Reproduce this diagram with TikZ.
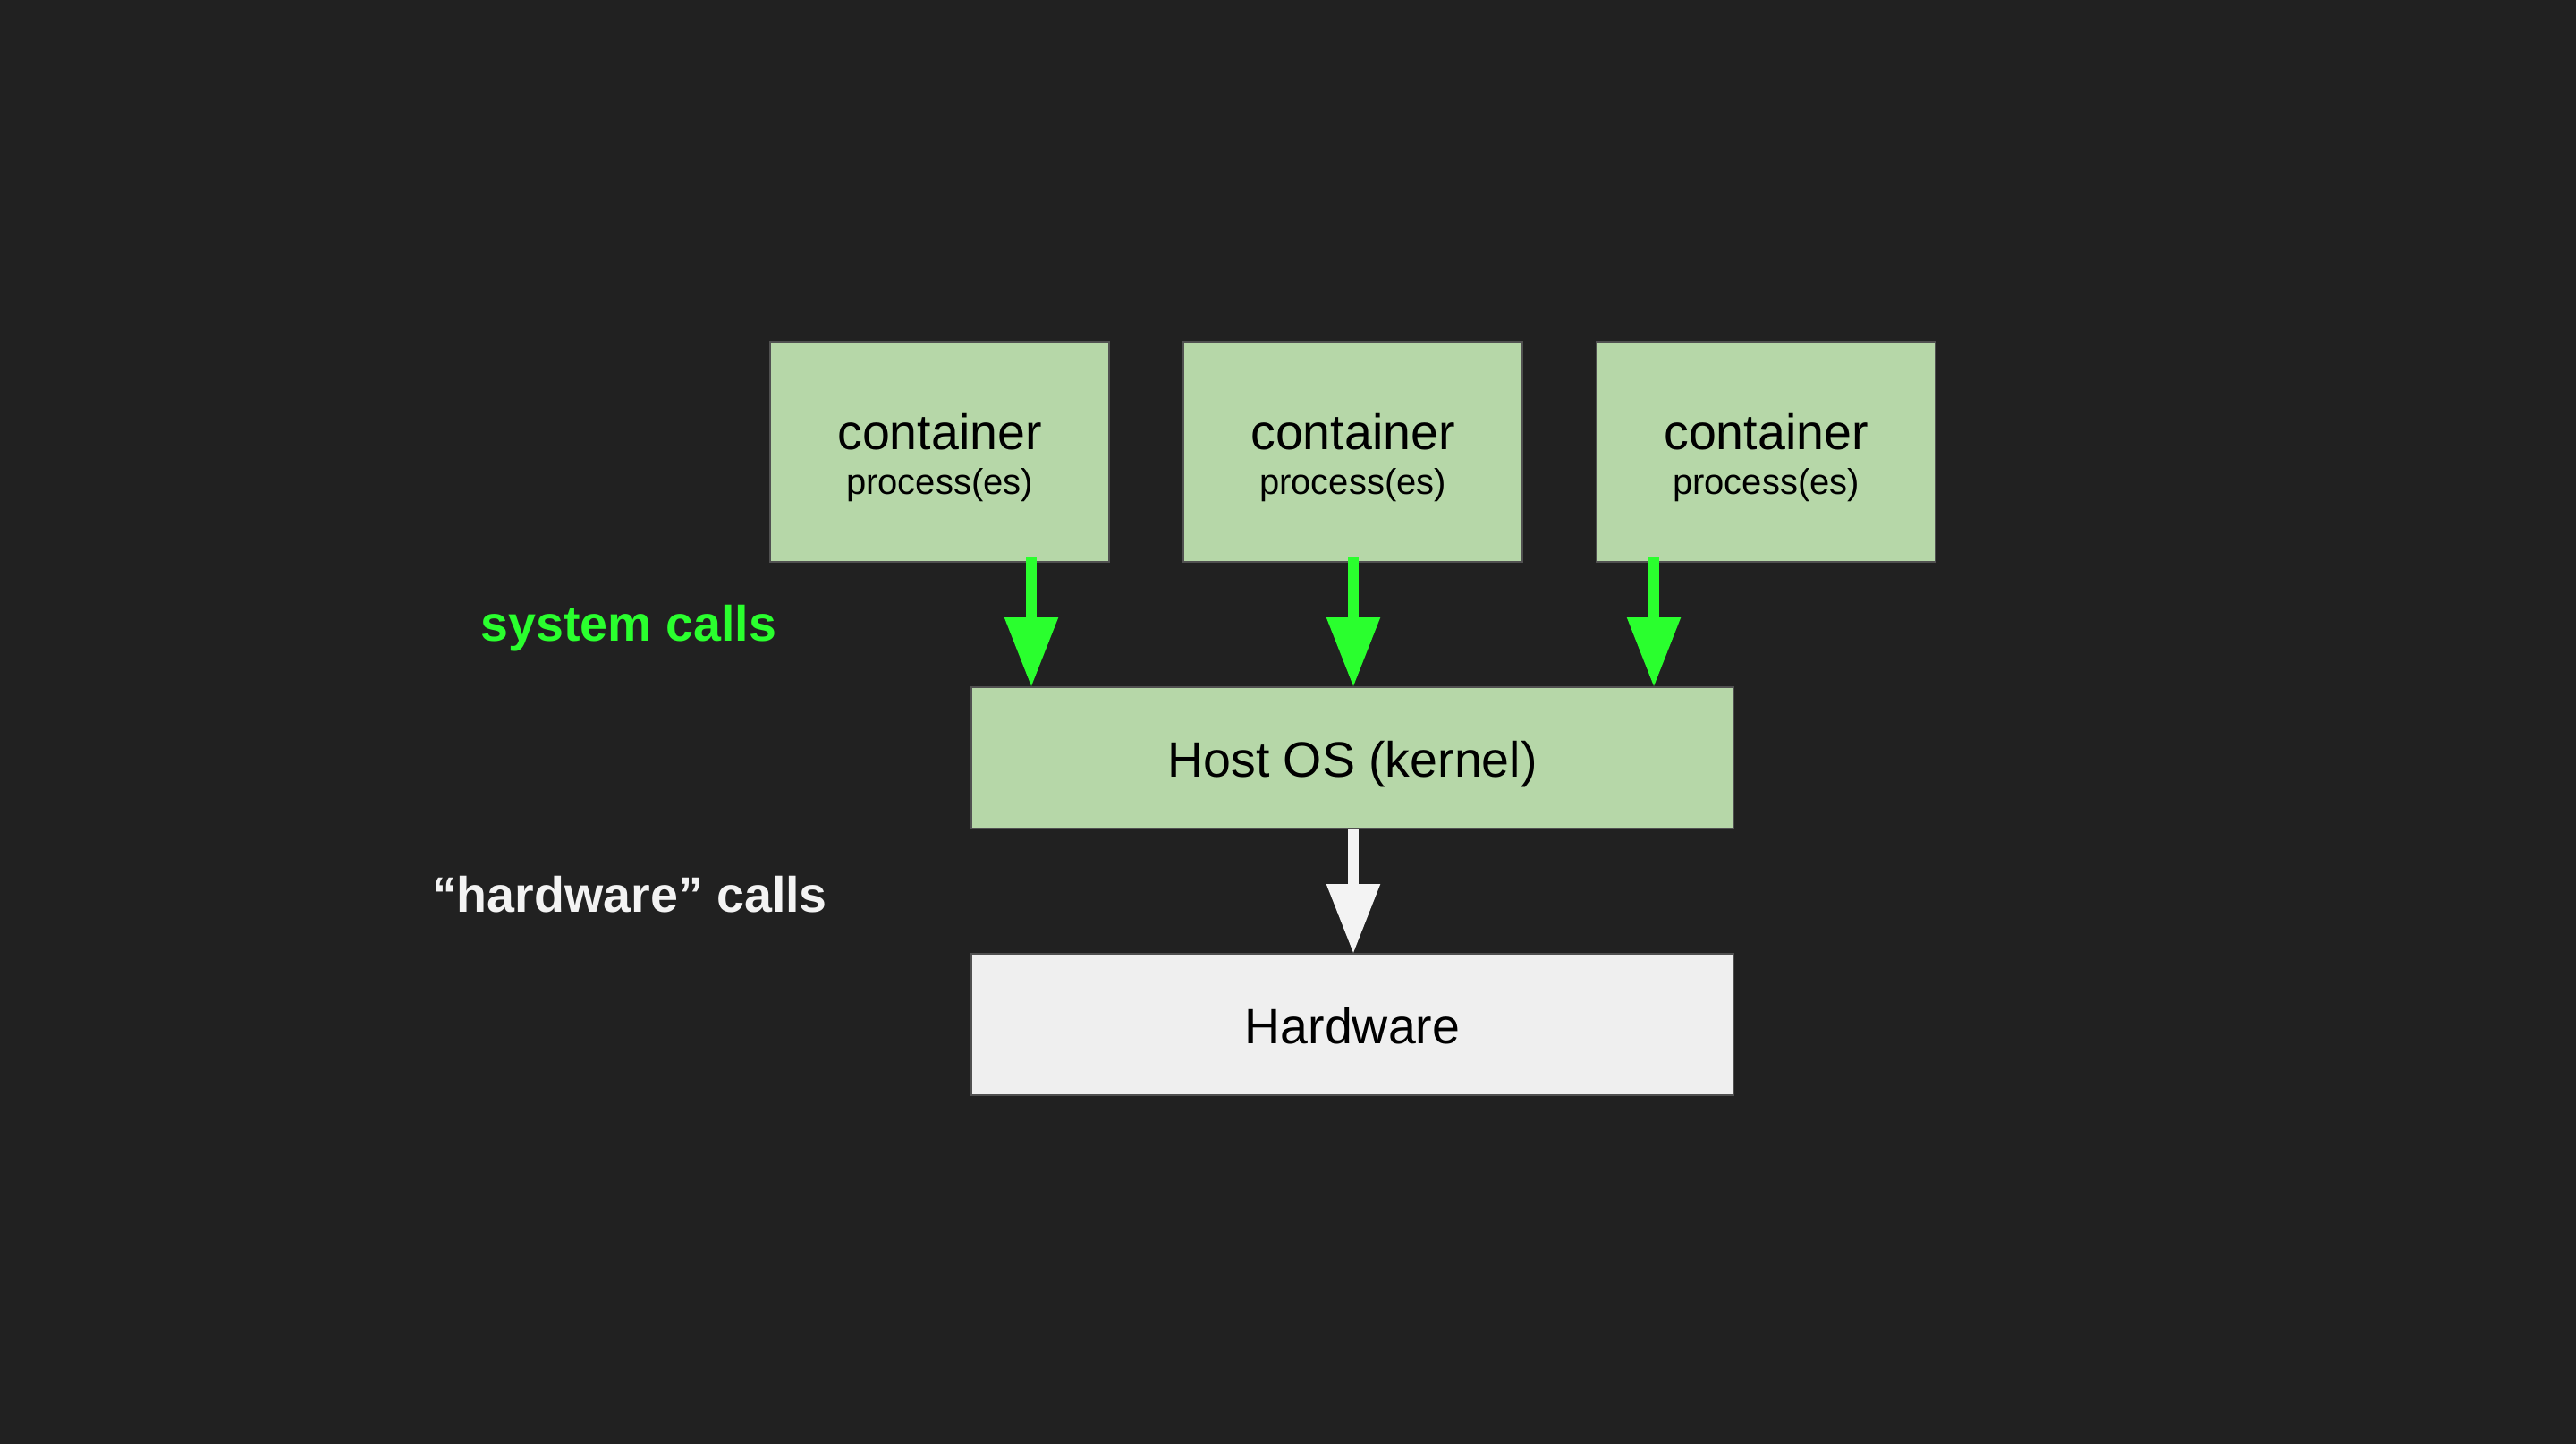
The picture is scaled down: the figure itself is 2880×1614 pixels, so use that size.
\documentclass[tikz,border=0pt]{standalone}
\usepackage{fontspec}
\setmainfont{Liberation Sans}
\usetikzlibrary{arrows.meta}
\definecolor{bg}{HTML}{212121}
\definecolor{boxgreen}{HTML}{B6D7A8}
\definecolor{hwgray}{HTML}{EFEFEF}
\definecolor{edgegray}{HTML}{505050}
\definecolor{callgreen}{HTML}{2AFF2E}
\definecolor{callwhite}{HTML}{F3F3F3}
\begin{document}
\begin{tikzpicture}[x=1pt,y=-1pt,
  box/.style={draw=edgegray, line width=2.5pt, fill=boxgreen, rectangle, inner sep=0pt, outer sep=0pt},
  cbox/.style={box, minimum width=379pt, minimum height=246pt},
  wbox/.style={box, minimum width=852pt, minimum height=158pt},
  bigtxt/.style={font=\fontsize{55.5pt}{66pt}\selectfont, text=black, anchor=base, inner sep=0pt},
  smalltxt/.style={font=\fontsize{40pt}{48pt}\selectfont, text=black, anchor=base, inner sep=0pt},
  calllabel/.style={font=\bfseries\fontsize{55.6pt}{66pt}\selectfont, anchor=base, inner sep=0pt},
  sysarrow/.style={line width=12pt, draw=callgreen, -{Triangle[width=57pt,length=78pt]}},
  hwarrow/.style={line width=12pt, draw=callwhite, -{Triangle[width=57pt,length=78pt]}}
]
\fill[bg] (0,0) rectangle (2880,1614);
\useasboundingbox (0,0) rectangle (2880,1614);

\node[cbox] (c1) at (1050.5,505) {};
\node[cbox] (c2) at (1512.5,505) {};
\node[cbox] (c3) at (1974.5,505) {};
\node[bigtxt] (t1) at (1050.5,502) {container};
\node[smalltxt] (p1) at (1050.5,552) {process(es)};
\node[bigtxt] (t2) at (1512.5,502) {container};
\node[smalltxt] (p2) at (1512.5,552) {process(es)};
\node[bigtxt] (t3) at (1974.5,502) {container};
\node[smalltxt] (p3) at (1974.5,552) {process(es)};

\node[wbox] (host) at (1512,847) {};
\node[bigtxt] (hostt) at (1512,868) {Host OS (kernel)};
\node[wbox, fill=hwgray] (hw) at (1512,1145) {};
\node[bigtxt] (hwt) at (1512,1166) {Hardware};

\coordinate (a1) at (1153,0);
\coordinate (a2) at (1513,0);
\coordinate (a3) at (1849,0);

\draw[sysarrow] ([yshift=5pt]a1 |- c1.south) -- (a1 |- host.north);
\draw[sysarrow] ([yshift=5pt]a2 |- c2.south) -- (a2 |- host.north);
\draw[sysarrow] ([yshift=5pt]a3 |- c3.south) -- (a3 |- host.north);
\draw[hwarrow] (a2 |- host.south) -- (a2 |- hw.north);

\node[calllabel, text=callgreen] (sys) at (703,716) {system calls};
\node[calllabel, text=callwhite] (hwc) at (704,1019) {“hardware” calls};
\end{tikzpicture}
\end{document}
